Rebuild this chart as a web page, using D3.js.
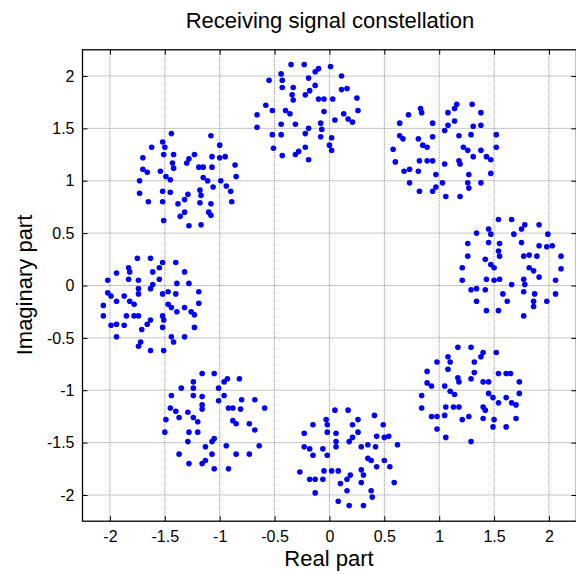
<!DOCTYPE html>
<html>
<head>
<meta charset="utf-8">
<script src="https://cdn.jsdelivr.net/npm/d3@7"></script>
<style>
  body { margin: 0; background: #fff; }
  svg { display: block; font-family: "Liberation Sans", Arial, sans-serif; }
</style>
</head>
<body>
<div id="chart"></div>
<script>
// received points, one array per constellation cluster [real, imag]
const clusterTop = [[-0.35,2.11],[-0.23,2.11],[-0.10,2.07],[-0.13,2.04],[0.01,2.09],[-0.44,2.02],[-0.55,1.96],[-0.43,1.96],[-0.19,1.98],[0.11,2.00],[-0.43,1.89],[-0.33,1.89],[-0.13,1.91],[-0.18,1.86],[-0.22,1.82],[-0.34,1.82],[-0.33,1.77],[0.11,1.87],[0.16,1.88],[-0.10,1.78],[-0.05,1.78],[0.03,1.78],[0.25,1.79],[-0.58,1.72],[-0.52,1.67],[-0.40,1.67],[-0.36,1.64],[-0.66,1.63],[-0.05,1.66],[0.13,1.64],[0.26,1.67],[0.05,1.58],[0.17,1.59],[0.21,1.56],[-0.66,1.51],[-0.44,1.54],[-0.31,1.54],[-0.08,1.55],[-0.19,1.50],[-0.07,1.49],[-0.52,1.44],[-0.44,1.44],[-0.22,1.45],[-0.08,1.42],[0.02,1.41],[0.00,1.34],[-0.22,1.32],[-0.51,1.31],[0.02,1.29],[-0.28,1.28],[-0.31,1.25],[-0.43,1.24],[-0.19,1.20]];
const clusterUpRight = [[0.83,1.69],[0.84,1.65],[0.72,1.63],[1.16,1.73],[1.14,1.69],[1.30,1.73],[1.08,1.65],[1.38,1.65],[0.64,1.55],[0.94,1.55],[1.14,1.57],[1.08,1.53],[1.05,1.48],[1.31,1.52],[1.38,1.53],[0.64,1.43],[0.67,1.40],[0.81,1.40],[0.94,1.42],[1.18,1.43],[1.29,1.44],[1.52,1.44],[0.85,1.34],[0.89,1.32],[0.58,1.30],[1.22,1.32],[1.26,1.29],[1.38,1.29],[1.52,1.32],[1.31,1.23],[1.43,1.23],[1.47,1.20],[0.60,1.18],[0.82,1.19],[0.89,1.19],[0.94,1.19],[1.18,1.19],[1.19,1.16],[1.05,1.16],[0.68,1.09],[0.73,1.11],[0.81,1.09],[0.97,1.06],[1.27,1.06],[1.47,1.07],[0.73,0.98],[1.03,0.98],[1.26,0.98],[1.38,0.98],[0.97,0.94],[1.27,0.93],[0.94,0.90],[0.82,0.90],[1.06,0.85],[1.19,0.85]];
const clusterRight = [[1.54,0.63],[1.66,0.63],[1.78,0.58],[1.75,0.54],[1.91,0.58],[1.45,0.54],[1.34,0.50],[1.47,0.49],[1.68,0.49],[1.99,0.49],[1.26,0.40],[1.45,0.41],[1.55,0.40],[1.75,0.41],[1.91,0.38],[1.98,0.37],[2.03,0.38],[1.54,0.33],[1.55,0.28],[1.26,0.28],[1.42,0.25],[1.77,0.28],[1.82,0.29],[1.89,0.28],[2.11,0.28],[1.47,0.20],[1.50,0.17],[1.21,0.17],[1.82,0.17],[1.86,0.14],[2.11,0.16],[1.91,0.08],[1.21,0.05],[1.43,0.06],[1.50,0.05],[1.55,0.06],[1.77,0.06],[1.78,0.01],[1.66,0.01],[2.06,0.05],[1.29,-0.04],[1.34,-0.03],[1.42,-0.04],[1.58,-0.08],[1.77,-0.06],[1.87,-0.08],[2.06,-0.08],[1.34,-0.15],[1.62,-0.15],[1.86,-0.15],[1.98,-0.15],[1.86,-0.20],[1.43,-0.24],[1.54,-0.24],[1.77,-0.29]];
const clusterLowRight = [[1.17,-0.59],[1.29,-0.59],[1.08,-0.68],[1.10,-0.73],[0.98,-0.73],[1.40,-0.64],[1.38,-0.68],[1.52,-0.64],[1.32,-0.73],[0.89,-0.82],[1.08,-0.80],[1.32,-0.83],[1.29,-0.89],[1.17,-0.88],[1.18,-0.92],[1.54,-0.84],[1.61,-0.84],[1.65,-0.84],[0.89,-0.93],[0.93,-0.96],[1.05,-0.96],[1.40,-0.92],[1.45,-0.92],[1.73,-0.92],[1.10,-1.01],[1.14,-1.04],[0.84,-1.05],[1.45,-1.03],[1.49,-1.07],[1.54,-1.12],[1.61,-1.07],[1.66,-1.12],[1.70,-1.14],[1.73,-1.03],[0.84,-1.17],[1.06,-1.16],[1.13,-1.16],[1.18,-1.16],[1.40,-1.16],[1.42,-1.19],[0.93,-1.25],[0.98,-1.25],[1.05,-1.24],[1.21,-1.28],[1.27,-1.25],[1.40,-1.27],[1.50,-1.28],[1.70,-1.27],[0.98,-1.37],[1.49,-1.35],[1.61,-1.35],[1.06,-1.45],[1.29,-1.49]];
const clusterBottom = [[0.05,-1.19],[0.17,-1.19],[-0.03,-1.28],[-0.02,-1.33],[-0.15,-1.33],[0.41,-1.24],[0.26,-1.28],[0.21,-1.33],[0.49,-1.33],[-0.23,-1.41],[-0.02,-1.40],[0.06,-1.41],[0.26,-1.40],[0.21,-1.45],[0.18,-1.49],[0.06,-1.49],[0.06,-1.54],[0.43,-1.44],[0.50,-1.45],[0.54,-1.44],[-0.23,-1.54],[-0.18,-1.56],[-0.06,-1.56],[0.29,-1.54],[0.35,-1.52],[0.42,-1.54],[0.62,-1.52],[-0.15,-1.62],[-0.02,-1.62],[0.35,-1.65],[0.38,-1.67],[0.50,-1.67],[0.55,-1.73],[0.43,-1.73],[-0.27,-1.78],[-0.05,-1.77],[0.02,-1.77],[0.08,-1.77],[0.29,-1.76],[0.31,-1.81],[0.19,-1.81],[-0.18,-1.85],[-0.13,-1.85],[-0.06,-1.85],[0.16,-1.85],[0.10,-1.89],[0.29,-1.88],[0.59,-1.88],[-0.13,-1.98],[0.16,-1.96],[0.38,-1.96],[0.39,-2.02],[0.08,-2.06],[0.18,-2.10],[0.31,-2.10]];
const clusterLowLeft = [[-1.16,-0.84],[-1.05,-0.84],[-0.93,-0.89],[-0.96,-0.92],[-0.82,-0.89],[-1.24,-0.92],[-1.24,-0.98],[-1.35,-0.98],[-1.01,-0.98],[-1.44,-1.05],[-1.24,-1.05],[-1.16,-1.06],[-0.96,-1.05],[-1.01,-1.10],[-1.16,-1.14],[-1.16,-1.18],[-0.80,-1.09],[-0.68,-1.09],[-1.45,-1.17],[-1.40,-1.20],[-1.29,-1.21],[-0.92,-1.17],[-0.88,-1.17],[-0.81,-1.18],[-0.59,-1.17],[-1.37,-1.26],[-1.24,-1.26],[-1.20,-1.30],[-1.49,-1.28],[-0.88,-1.29],[-0.85,-1.32],[-0.73,-1.32],[-0.68,-1.38],[-1.50,-1.40],[-1.28,-1.40],[-1.20,-1.40],[-1.05,-1.46],[-1.07,-1.49],[-1.29,-1.49],[-1.13,-1.54],[-0.94,-1.53],[-0.64,-1.53],[-1.37,-1.61],[-1.07,-1.61],[-0.85,-1.61],[-0.73,-1.61],[-1.13,-1.67],[-1.16,-1.70],[-1.28,-1.70],[-1.05,-1.75],[-0.92,-1.75]];
const clusterLeft = [[-1.75,0.26],[-1.63,0.26],[-1.52,0.22],[-1.55,0.17],[-1.40,0.22],[-1.83,0.17],[-1.82,0.13],[-1.94,0.12],[-1.61,0.13],[-1.32,0.13],[-2.02,0.05],[-1.83,0.06],[-1.74,0.05],[-1.55,0.06],[-1.61,0.01],[-1.63,-0.03],[-1.74,-0.03],[-1.74,-0.08],[-1.39,0.02],[-1.28,0.02],[-2.02,-0.07],[-1.99,-0.10],[-1.87,-0.10],[-1.52,-0.08],[-1.47,-0.06],[-1.40,-0.08],[-1.19,-0.06],[-1.94,-0.15],[-1.82,-0.15],[-1.78,-0.18],[-2.06,-0.19],[-1.47,-0.18],[-1.44,-0.21],[-1.32,-0.21],[-1.39,-0.25],[-1.26,-0.25],[-1.23,-0.28],[-1.19,-0.17],[-2.06,-0.29],[-1.85,-0.29],[-1.78,-0.29],[-1.74,-0.29],[-1.52,-0.29],[-1.51,-0.33],[-1.63,-0.33],[-1.99,-0.38],[-1.94,-0.37],[-1.87,-0.38],[-1.66,-0.37],[-1.71,-0.42],[-1.52,-0.40],[-1.23,-0.40],[-1.94,-0.49],[-1.44,-0.49],[-1.32,-0.49],[-1.42,-0.54],[-1.72,-0.54],[-1.74,-0.58],[-1.63,-0.62],[-1.51,-0.62]];
const clusterUpLeft = [[-1.44,1.45],[-1.08,1.43],[-1.52,1.37],[-1.50,1.32],[-1.62,1.32],[-1.00,1.34],[-1.70,1.22],[-1.51,1.25],[-1.42,1.25],[-1.23,1.25],[-1.28,1.21],[-1.30,1.17],[-1.43,1.17],[-1.42,1.12],[-1.07,1.23],[-1.00,1.22],[-0.95,1.23],[-1.70,1.11],[-1.66,1.08],[-1.54,1.09],[-1.19,1.13],[-1.15,1.13],[-1.07,1.13],[-0.86,1.15],[-1.49,1.04],[-1.45,1.01],[-1.73,1.00],[-1.15,1.03],[-1.11,1.00],[-0.99,1.00],[-0.85,1.04],[-1.06,0.94],[-0.94,0.95],[-0.90,0.90],[-1.73,0.88],[-1.52,0.90],[-1.45,0.89],[-1.18,0.91],[-1.29,0.87],[-1.17,0.86],[-1.65,0.80],[-1.52,0.80],[-1.32,0.82],[-1.38,0.78],[-1.18,0.79],[-1.08,0.78],[-0.89,0.80],[-1.32,0.70],[-1.10,0.70],[-1.08,0.67],[-1.36,0.66],[-1.51,0.62],[-1.28,0.57],[-1.17,0.58]];

const clusters = [clusterTop, clusterUpRight, clusterRight, clusterLowRight,
                  clusterBottom, clusterLowLeft, clusterLeft, clusterUpLeft];

const tickValues = [-2, -1.5, -1, -0.5, 0, 0.5, 1, 1.5, 2];
const tickLabels = ["-2", "-1.5", "-1", "-0.5", "0", "0.5", "1", "1.5", "2"];

let width = 576,
    height = 574;

let x = d3.scaleLinear().domain([-2.25, 2.25]).range([82.5, 576.4]);
let y = d3.scaleLinear().domain([-2.25, 2.25]).range([521.2, 49.8]);

let svg = d3.select("#chart")
    .append("svg")
    .attr("width", width)
    .attr("height", height);

// grid
let grid = svg.append("g").attr("class", "grid");
grid.selectAll("line.vx")
    .data(tickValues)
    .enter().append("line")
    .attr("x1", d => x(d)).attr("x2", d => x(d))
    .attr("y1", y(-2.25)).attr("y2", y(2.25));
grid.selectAll("line.hy")
    .data(tickValues)
    .enter().append("line")
    .attr("y1", d => y(d)).attr("y2", d => y(d))
    .attr("x1", x(-2.25)).attr("x2", x(2.25));
grid.selectAll("line")
    .attr("stroke", "#8c8c8c")
    .attr("stroke-width", 1)
    .attr("stroke-dasharray", "1,1");

// points
let pts = svg.append("g").attr("class", "points");
clusters.forEach(function(c) {
    pts.selectAll(null)
        .data(c)
        .enter().append("circle")
        .attr("cx", d => x(d[0]))
        .attr("cy", d => y(d[1]))
        .attr("r", 2.8)
        .attr("fill", "#0000ff");
});

// axes, ticks inward on all four sides
let fmt = (d, i) => tickLabels[i];

let axBottom = svg.append("g")
    .attr("transform", "translate(0," + y(-2.25) + ")")
    .call(d3.axisBottom(x).tickValues(tickValues).tickFormat(fmt)
        .tickSizeInner(-5).tickSizeOuter(0).tickPadding(9));
let axTop = svg.append("g")
    .attr("transform", "translate(0," + y(2.25) + ")")
    .call(d3.axisTop(x).tickValues(tickValues).tickFormat("")
        .tickSizeInner(-5).tickSizeOuter(0));
let axLeft = svg.append("g")
    .attr("transform", "translate(" + x(-2.25) + ",0)")
    .call(d3.axisLeft(y).tickValues(tickValues).tickFormat(fmt)
        .tickSizeInner(-5).tickSizeOuter(0).tickPadding(8));
let axRight = svg.append("g")
    .attr("transform", "translate(" + x(2.25) + ",0)")
    .call(d3.axisRight(y).tickValues(tickValues).tickFormat("")
        .tickSizeInner(-5).tickSizeOuter(0));

[axBottom, axTop, axLeft, axRight].forEach(function(a) {
    a.select(".domain").remove();
    a.selectAll(".tick line").attr("stroke", "#000").attr("stroke-width", 1);
    a.selectAll("text")
        .attr("fill", "#000")
        .style("font-size", "16px")
        .style("font-family", "'Liberation Sans', Arial, sans-serif");
});

// box
svg.append("rect")
    .attr("x", x(-2.25)).attr("y", y(2.25))
    .attr("width", x(2.25) - x(-2.25))
    .attr("height", y(-2.25) - y(2.25))
    .attr("fill", "none")
    .attr("stroke", "#000")
    .attr("stroke-width", 1.3);

// texts
svg.append("text")
    .attr("x", 330).attr("y", 28)
    .attr("text-anchor", "middle")
    .style("font-size", "22px")
    .text("Receiving signal constellation");

svg.append("text")
    .attr("x", 329).attr("y", 566)
    .attr("text-anchor", "middle")
    .style("font-size", "22px")
    .text("Real part");

svg.append("text")
    .attr("transform", "translate(32,285) rotate(-90)")
    .attr("text-anchor", "middle")
    .style("font-size", "22px")
    .text("Imaginary part");
</script>
</body>
</html>
